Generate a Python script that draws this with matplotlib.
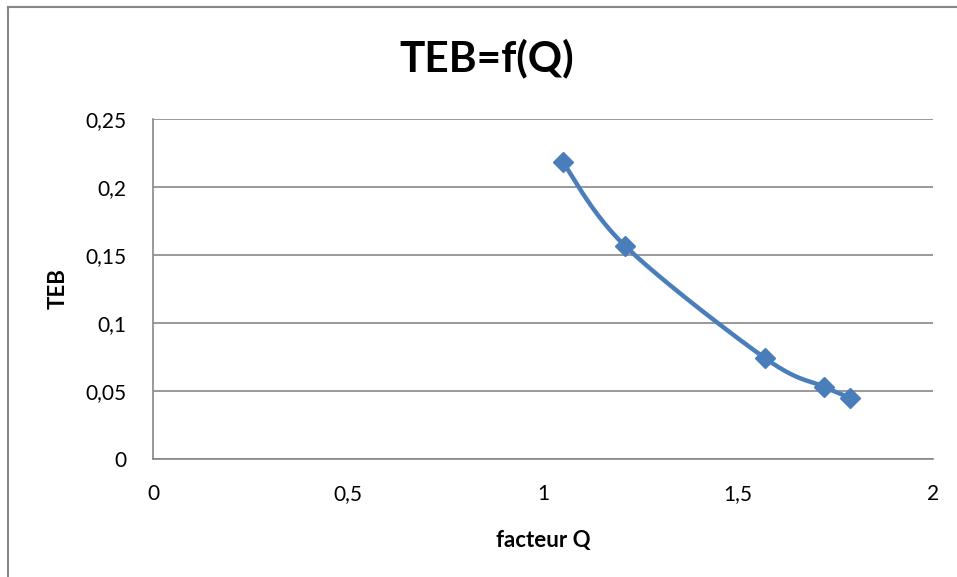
import numpy as np
import matplotlib
matplotlib.use("Agg")
import matplotlib.pyplot as plt
from matplotlib.lines import Line2D

plt.rcParams['font.family'] = ['Lato', 'DejaVu Sans']

# Data
facteur_q = [1.05, 1.21, 1.57, 1.72, 1.787]
teb = [0.2186, 0.1568, 0.0740, 0.0532, 0.0451]
x_ticks = [0, 0.5, 1, 1.5, 2]
x_tick_labels = ["0", "0,5", "1", "1,5", "2"]
y_ticks = [0, 0.05, 0.1, 0.15, 0.2, 0.25]
y_tick_labels = ["0", "0,05", "0,1", "0,15", "0,2", "0,25"]

color = "#4A7EBB"
grid_color = "#878787"


def smooth_curve(x, y, n=40):
    """Bezier smoothing through the points (Catmull-Rom style, tension 1/6)."""
    x = np.asarray(x, float)
    y = np.asarray(y, float)
    px = np.concatenate([[x[0]], x, [x[-1]]])
    py = np.concatenate([[y[0]], y, [y[-1]]])
    xs, ys = [], []
    t = np.linspace(0, 1, n)
    for i in range(1, len(x)):
        p0 = np.array([px[i], py[i]])
        p3 = np.array([px[i + 1], py[i + 1]])
        c1 = p0 + (p3 - np.array([px[i - 1], py[i - 1]])) / 6.0
        c2 = p3 - (np.array([px[i + 2], py[i + 2]]) - p0) / 6.0
        b = ((1 - t) ** 3)[:, None] * p0 + (3 * (1 - t) ** 2 * t)[:, None] * c1 \
            + (3 * (1 - t) * t ** 2)[:, None] * c2 + (t ** 3)[:, None] * p3
        xs.append(b[:, 0])
        ys.append(b[:, 1])
    return np.concatenate(xs), np.concatenate(ys)


fig = plt.figure(figsize=(9.57, 5.77), dpi=100)
ax = fig.add_axes([153 / 957, 1 - 459 / 577, 780 / 957, 340 / 577])

sx, sy = smooth_curve(facteur_q, teb)
ax.plot(sx, sy, color=color, lw=3.2, solid_capstyle='round', zorder=3)
ax.plot(facteur_q, teb, linestyle='none', marker='D', markersize=10,
        color=color, zorder=4)

ax.set_xlim(0, 2)
ax.set_ylim(0, 0.25)
ax.set_xticks(x_ticks)
ax.set_xticklabels(x_tick_labels)
ax.set_yticks(y_ticks)
ax.set_yticklabels(y_tick_labels)
ax.tick_params(axis='both', length=0, labelsize=15, colors='black')
ax.tick_params(axis='x', pad=18)
ax.tick_params(axis='y', pad=19)

ax.grid(axis='y', color=grid_color, lw=1.2)
ax.set_axisbelow(True)
for side in ['top', 'right']:
    ax.spines[side].set_visible(False)
for side in ['left', 'bottom']:
    ax.spines[side].set_color(grid_color)
    ax.spines[side].set_linewidth(1.2)

ax.set_xlabel("facteur Q", fontsize=16, fontweight='bold', labelpad=19)
ax.set_ylabel("TEB", fontsize=16, fontweight='bold', labelpad=12)

fig.text(487 / 957, 1 - 58 / 577, "TEB=f(Q)", fontsize=30.5, fontweight='bold',
         ha='center', va='center')

# Chart area border (left and top edges)
fig.add_artist(Line2D([8 / 957, 8 / 957], [0, 1 - 7 / 577],
                      transform=fig.transFigure, color=grid_color, lw=1.5))
fig.add_artist(Line2D([8 / 957, 1], [1 - 7 / 577, 1 - 7 / 577],
                      transform=fig.transFigure, color=grid_color, lw=1.5))

fig.savefig("out.png", dpi=100)
